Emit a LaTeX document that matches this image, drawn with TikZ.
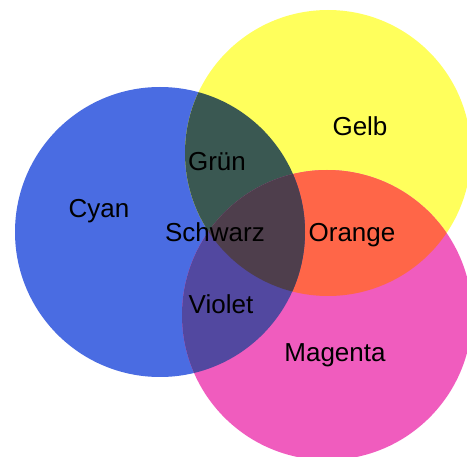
\documentclass[tikz,border=0pt]{standalone}
\usepackage{fontspec}
\setmainfont{Liberation Sans}
\definecolor{cyanC}{RGB}{74,108,226}
\definecolor{yellowC}{RGB}{255,255,92}
\definecolor{magentaC}{RGB}{240,92,190}
\definecolor{orangeC}{RGB}{255,102,72}
\definecolor{greenC}{RGB}{58,88,82}
\definecolor{blackC}{RGB}{78,62,76}
\definecolor{violetC}{RGB}{82,72,160}
\tikzset{lbl/.style={anchor=base,inner sep=0pt,font=\fontsize{26}{30}\selectfont,text=black}}
\begin{document}
\begin{tikzpicture}[x=1pt,y=-1pt]
\useasboundingbox[fill=white] (0,0) rectangle (467,457);
\def\cyanpath{(160,232) circle[radius=145]}
\def\yellowpath{(328,153) circle[radius=143]}
\def\magentapath{(327,315) circle[radius=145]}
\fill[cyanC] \cyanpath;
\fill[yellowC] \yellowpath;
\fill[magentaC] \magentapath;
\begin{scope}
\clip \yellowpath;
\fill[greenC] \cyanpath;
\fill[orangeC] \magentapath;
\end{scope}
\begin{scope}
\clip \cyanpath;
\fill[violetC] \magentapath;
\end{scope}
\begin{scope}
\clip \cyanpath;
\clip \yellowpath;
\fill[blackC] \magentapath;
\end{scope}
\node[lbl] (gelb) at (360,136) {Gelb};
\node[lbl] (gruen) at (217,171) {Grün};
\node[lbl] (cyan) at (99,218) {Cyan};
\node[lbl] (schwarz) at (215,242) {Schwarz};
\node[lbl] (orange) at (352,242) {Orange};
\node[lbl] (violet) at (221,314) {Violet};
\node[lbl] (magenta) at (335,362) {Magenta};
\end{tikzpicture}
\end{document}
